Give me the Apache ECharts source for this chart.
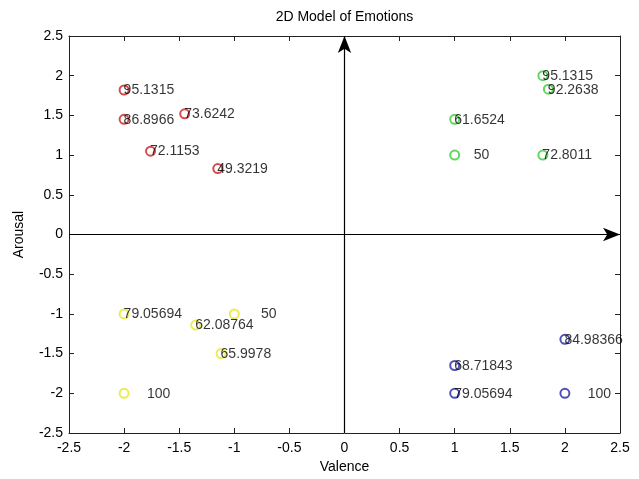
<!DOCTYPE html>
<html>
<head>
<meta charset="utf-8">
<script src="https://cdn.jsdelivr.net/npm/echarts@6/dist/echarts.min.js"></script>
<style>html,body{margin:0;padding:0;background:#fff}#c{width:639px;height:479px}</style>
</head>
<body>
<div id="c"></div>
<script>
// Data
const titleText = '2D Model of Emotions';
const xName = 'Valence';
const yName = 'Arousal';
const axisMin = -2.5, axisMax = 2.5, axisStep = 0.5;

const redX = [-2.0, -2.0, -1.45, -1.76, -1.15];
const redY = [1.82, 1.45, 1.52, 1.05, 0.83];
const redLabels = ['95.1315', '86.8966', '73.6242', '72.1153', '49.3219'];

const greenX = [1.8, 1.85, 1.0, 1.0, 1.8];
const greenY = [2.0, 1.83, 1.45, 1.0, 1.0];
const greenLabels = ['95.1315', '92.2638', '61.6524', '     50', '72.8011'];

const yellowX = [-2.0, -1.35, -1.0, -1.12, -2.0];
const yellowY = [-1.0, -1.14, -1.0, -1.5, -2.0];
const yellowLabels = ['79.05694', '62.08764', '       50', '65.9978', '      100'];

const blueX = [2.0, 1.0, 1.0, 2.0];
const blueY = [-1.32, -1.65, -2.0, -2.0];
const blueLabels = ['84.98366', '68.71843', '79.05694', '      100'];

const colors = { red: '#cc1f1f', green: '#3cc83c', yellow: '#e6e62a', blue: '#2323a8' };

const FONT = '"Liberation Sans", Arial, sans-serif';

function pts(xs, ys, labels) {
  return xs.map((x, i) => ({ value: [x, ys[i]], label: { formatter: labels[i] } }));
}
function scatter(name, xs, ys, labels, color) {
  return {
    name: name, type: 'scatter', xAxisIndex: 0, yAxisIndex: 0,
    symbol: 'emptyCircle', symbolSize: 9,
    itemStyle: { color: color, borderColor: color, borderWidth: 1 },
    label: {
      show: true, position: [5, 6], align: 'left', verticalAlign: 'middle',
      color: '#000', fontFamily: FONT, fontSize: 14, textBorderWidth: 0
    },
    emphasis: { disabled: true },
    data: pts(xs, ys, labels), z: 3
  };
}

const axisLineStyle = { show: true, onZero: false, lineStyle: { color: '#222', width: 1 } };
const tickStyle = { show: true, inside: true, length: 5, lineStyle: { color: '#222' } };
const labelStyle = { color: '#000', fontFamily: FONT, fontSize: 14 };

const chart = echarts.init(document.getElementById('c'), null, { renderer: 'canvas' });
chart.setOption({
  backgroundColor: '#fff',
  animation: false,
  grid: { left: 69, right: 19, top: 36, bottom: 42, containLabel: false },
  xAxis: [
    {
      type: 'value', min: axisMin, max: axisMax, interval: axisStep, position: 'bottom',
      axisLine: axisLineStyle, axisTick: tickStyle,
      axisLabel: Object.assign({ margin: 8, showMinLabel: true, showMaxLabel: true }, labelStyle),
      splitLine: { show: false },
      name: xName, nameLocation: 'middle', nameGap: 27,
      nameTextStyle: { color: '#000', fontFamily: FONT, fontSize: 14 }
    },
    {
      type: 'value', min: axisMin, max: axisMax, interval: axisStep, position: 'top',
      axisLine: axisLineStyle, axisTick: tickStyle, axisLabel: { show: false },
      splitLine: { show: false },
      name: titleText, nameLocation: 'middle', nameGap: 12,
      nameTextStyle: { color: '#000', fontFamily: FONT, fontSize: 14 }
    }
  ],
  yAxis: [
    {
      type: 'value', min: axisMin, max: axisMax, interval: axisStep, position: 'left',
      axisLine: axisLineStyle, axisTick: tickStyle,
      axisLabel: Object.assign({ margin: 6 }, labelStyle),
      splitLine: { show: false },
      name: yName, nameLocation: 'middle', nameGap: 43,
      nameTextStyle: { color: '#000', fontFamily: FONT, fontSize: 14 }
    },
    {
      type: 'value', min: axisMin, max: axisMax, interval: axisStep, position: 'right',
      axisLine: axisLineStyle, axisTick: tickStyle, axisLabel: { show: false },
      splitLine: { show: false }
    }
  ],
  series: [
    {
      name: 'axes', type: 'scatter', data: [], xAxisIndex: 0, yAxisIndex: 0,
      markLine: {
        silent: true, animation: false,
        symbol: ['none', 'arrow'], symbolSize: [10, 17],
        label: { show: false },
        lineStyle: { color: '#000', width: 1.2, type: 'solid' },
        data: [
          [{ coord: [0, axisMin] }, { coord: [0, axisMax] }],
          [{ coord: [axisMin, 0] }, { coord: [axisMax, 0] }]
        ]
      }
    },
    scatter('red', redX, redY, redLabels, colors.red),
    scatter('green', greenX, greenY, greenLabels, colors.green),
    scatter('yellow', yellowX, yellowY, yellowLabels, colors.yellow),
    scatter('blue', blueX, blueY, blueLabels, colors.blue)
  ]
});
</script>
</body>
</html>
